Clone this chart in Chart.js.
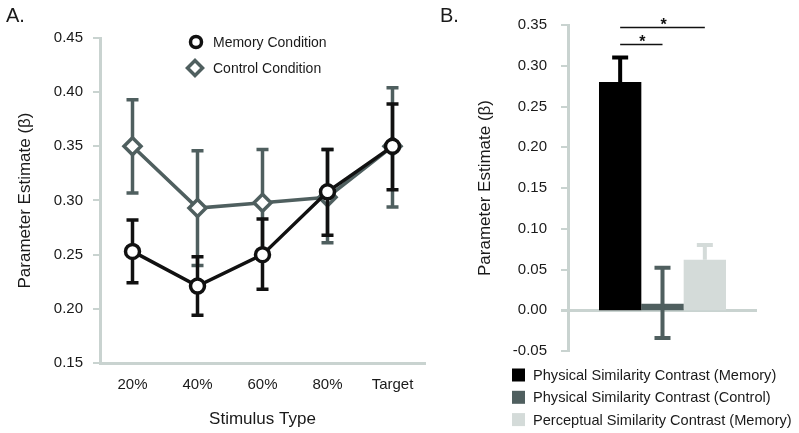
<!DOCTYPE html>
<html><head><meta charset="utf-8">
<script src="https://cdn.jsdelivr.net/npm/chart.js@4"></script>
<style>
html,body{margin:0;padding:0;background:#fff;}
#wrap{position:relative;width:799px;height:433px;overflow:hidden;}
canvas{position:absolute;left:0;top:0;}
</style></head><body>
<div id="wrap">
<canvas id="a" width="799" height="433"></canvas>
<canvas id="b" width="799" height="433"></canvas>
</div>
<script>
// ---- data ----
const stimulusTypes = ['20%', '40%', '60%', '80%', 'Target'];
const memoryValues  = [0.253, 0.221, 0.250, 0.308, 0.350];
const memoryUpper   = [0.282, 0.248, 0.283, 0.347, 0.389];
const memoryLower   = [0.224, 0.194, 0.218, 0.268, 0.310];
const controlValues = [0.350, 0.293, 0.298, 0.303, 0.350];
const controlUpper  = [0.393, 0.346, 0.347, 0.347, 0.404];
const controlLower  = [0.307, 0.240, 0.249, 0.261, 0.294];
const seriesNames   = ['Memory Condition', 'Control Condition'];

const contrastNames  = ['Physical Similarity Contrast (Memory)', 'Physical Similarity Contrast (Control)', 'Perceptual Similarity Contrast (Memory)'];
const contrastValues = [0.280, 0.008, 0.062];
const contrastUpper  = [0.310, 0.052, 0.080];
const contrastLower  = [null, -0.034, null];
const sigPairs  = [[0, 1], [0, 2]];
const sigLevels = [0.327, 0.348];
const sigLabels = ['*', '*'];

const panelLabels = ['A.', 'B.'];
const yTitle = 'Parameter Estimate (\u03b2)';
const xTitle = 'Stimulus Type';

// ---- styles ----
const FONT = '"Liberation Sans", Arial, Helvetica, sans-serif';
const TXT = '#1a1a1a';
const AXIS = '#c9d3d0';
const BLACK = '#111111';
const GRAY = '#4f5f5f';
const LIGHT = '#d4dbd9';

Chart.defaults.font.family = FONT;
Chart.defaults.color = TXT;
Chart.defaults.animation = false;

const errorBarPlugin = {
  id: 'errbars',
  beforeDatasetDraw(chart, args, opts) { if (opts.when === 'before') draw(chart, args, opts); },
  afterDatasetDraw(chart, args, opts) { if (opts.when === 'after') draw(chart, args, opts); }
};
function draw(chart, args, opts) {
  const spec = opts.sets && opts.sets[args.index];
  if (!spec) return;
  const ctx = chart.ctx, ys = chart.scales.y;
  ctx.save();
  ctx.strokeStyle = spec.color;
  ctx.lineWidth = spec.width;
  ctx.lineCap = 'butt';
  args.meta.data.forEach((el, i) => {
    const x = el.x;
    const yTop = ys.getPixelForValue(spec.upper[i]);
    const lo = spec.lower[i];
    const yBot = ys.getPixelForValue(lo == null ? spec.values[i] : lo);
    ctx.beginPath();
    ctx.moveTo(x, yTop); ctx.lineTo(x, yBot);
    ctx.moveTo(x - spec.cap, yTop); ctx.lineTo(x + spec.cap, yTop);
    if (lo != null) { ctx.moveTo(x - spec.cap, yBot); ctx.lineTo(x + spec.cap, yBot); }
    ctx.stroke();
  });
  ctx.restore();
}

const panelLabelPlugin = {
  id: 'panelLabel',
  afterDraw(chart, args, opts) {
    const ctx = chart.ctx;
    ctx.save();
    ctx.fillStyle = TXT;
    ctx.font = '20px ' + FONT;
    ctx.textAlign = 'left';
    ctx.textBaseline = 'alphabetic';
    ctx.fillText(opts.text, opts.x, opts.y);
    ctx.restore();
  }
};

// legend for panel A
const legendA = {
  id: 'legendA',
  afterDraw(chart) {
    const ctx = chart.ctx, ca = chart.chartArea;
    const sx = ca.left + 96, tx = ca.left + 113;
    const rows = [ca.top + 4, ca.top + 30];
    ctx.save();
    ctx.font = '14px ' + FONT;
    ctx.textBaseline = 'middle';
    ctx.textAlign = 'left';
    ctx.lineWidth = 3.5;
    ctx.strokeStyle = BLACK;
    ctx.fillStyle = '#fff';
    ctx.beginPath(); ctx.arc(sx, rows[0], 5.5, 0, Math.PI * 2); ctx.fill(); ctx.stroke();
    ctx.strokeStyle = GRAY;
    const r = 7.5, dx = sx - 1;
    ctx.beginPath();
    ctx.moveTo(dx, rows[1] - r); ctx.lineTo(dx + r, rows[1]); ctx.lineTo(dx, rows[1] + r); ctx.lineTo(dx - r, rows[1]); ctx.closePath();
    ctx.fill(); ctx.stroke();
    ctx.fillStyle = TXT;
    ctx.fillText(seriesNames[0], tx, rows[0] + 1);
    ctx.fillText(seriesNames[1], tx, rows[1] + 1);
    ctx.restore();
  }
};

// legend + significance for panel B
const barColors = ['#000000', GRAY, LIGHT];
const legendB = {
  id: 'legendB',
  afterDraw(chart) {
    const ctx = chart.ctx, ca = chart.chartArea, ys = chart.scales.y;
    ctx.save();
    ctx.strokeStyle = '#111';
    ctx.lineWidth = 1.5;
    ctx.fillStyle = '#111';
    ctx.font = 'bold 16px ' + FONT;
    ctx.textAlign = 'center';
    ctx.textBaseline = 'alphabetic';
    sigPairs.forEach((p, k) => {
      const x1 = chart.getDatasetMeta(p[0]).data[0].x;
      const x2 = chart.getDatasetMeta(p[1]).data[0].x;
      const y = Math.round(ys.getPixelForValue(sigLevels[k])) + 0.5;
      ctx.beginPath(); ctx.moveTo(x1, y); ctx.lineTo(x2, y); ctx.stroke();
      ctx.fillText(sigLabels[k], (x1 + x2) / 2 + 1, y + 2);
    });
    const sx = ca.left - 56, tx = ca.left - 35;
    ctx.font = '14.6px ' + FONT;
    ctx.textAlign = 'left';
    ctx.textBaseline = 'middle';
    contrastNames.forEach((n, i) => {
      const cy = ca.bottom + 24 + i * 22.3;
      ctx.fillStyle = barColors[i];
      ctx.fillRect(sx, cy - 6.5, 13, 13);
      ctx.fillStyle = TXT;
      ctx.fillText(n, tx, cy + 1);
    });
    ctx.restore();
  }
};

const fmt = v => (Math.abs(v) < 1e-9 ? 0 : Number(v)).toFixed(2);

// ---- Panel A ----
new Chart(document.getElementById('a'), {
  type: 'line',
  data: {
    labels: stimulusTypes,
    datasets: [
      { label: seriesNames[0], data: memoryValues, borderColor: BLACK, borderWidth: 3.5, tension: 0,
        pointStyle: 'circle', pointRadius: 7, pointBorderWidth: 3.5, pointBackgroundColor: '#fff', pointBorderColor: BLACK },
      { label: seriesNames[1], data: controlValues, borderColor: GRAY, borderWidth: 3.5, tension: 0,
        pointStyle: 'rectRot', pointRadius: 8.5, pointBorderWidth: 3.5, pointBackgroundColor: '#fff', pointBorderColor: GRAY }
    ]
  },
  options: {
    responsive: false, devicePixelRatio: 1,
    layout: { padding: { left: 0, top: 38, right: 374, bottom: 0 } },
    plugins: {
      legend: { display: false }, tooltip: { enabled: false },
      errbars: { when: 'before', sets: [
        { values: memoryValues, upper: memoryUpper, lower: memoryLower, color: BLACK, width: 3.5, cap: 6 },
        { values: controlValues, upper: controlUpper, lower: controlLower, color: GRAY, width: 3.5, cap: 6 }
      ] },
      panelLabel: { text: panelLabels[0], x: 6, y: 22 }
    },
    scales: {
      x: {
        offset: true,
        grid: { display: false },
        border: { display: true, color: AXIS, width: 3 },
        ticks: { font: { size: 15 }, color: TXT, padding: 5 },
        title: { display: true, text: xTitle, font: { size: 17 }, color: TXT, padding: { top: 0, bottom: 3 } },
        afterFit: s => { s.height = 70; }
      },
      y: {
        min: 0.15, max: 0.45,
        ticks: { stepSize: 0.05, callback: fmt, font: { size: 15 }, color: TXT, padding: 10 },
        grid: { drawOnChartArea: false, drawTicks: true, tickLength: 7, color: AXIS, lineWidth: 2 },
        border: { display: true, color: AXIS, width: 3 },
        title: { display: true, text: yTitle, font: { size: 17 }, color: TXT, padding: { top: 15, bottom: 0 } },
        afterFit: s => { s.width = 100; }
      }
    }
  },
  plugins: [errorBarPlugin, panelLabelPlugin, legendA]
});

// ---- Panel B ----
new Chart(document.getElementById('b'), {
  type: 'bar',
  data: {
    labels: [''],
    datasets: contrastNames.map((n, i) => ({
      label: n, data: [contrastValues[i]], backgroundColor: barColors[i], borderWidth: 0,
      barPercentage: 1, categoryPercentage: 0.672
    }))
  },
  options: {
    responsive: false, devicePixelRatio: 1,
    layout: { padding: { left: 440, top: 25, right: 42, bottom: 82 } },
    plugins: {
      legend: { display: false }, tooltip: { enabled: false },
      errbars: { when: 'after', sets: contrastNames.map((n, i) => ({
        values: [contrastValues[i]], upper: [contrastUpper[i]], lower: [contrastLower[i]],
        color: barColors[i], width: 4, cap: 8 })) },
      panelLabel: { text: panelLabels[1], x: 440, y: 22 }
    },
    scales: {
      x: { display: false },
      y: {
        min: -0.05, max: 0.35,
        ticks: { stepSize: 0.05, callback: fmt, font: { size: 15 }, color: TXT, padding: 14 },
        grid: { drawOnChartArea: true, drawTicks: true, tickLength: 7, tickColor: AXIS,
                color: c => (c.tick && Math.abs(c.tick.value) < 1e-9) ? AXIS : 'rgba(0,0,0,0)',
                lineWidth: c => (c.tick && Math.abs(c.tick.value) < 1e-9) ? 3 : 2 },
        border: { display: true, color: AXIS, width: 3 },
        title: { display: true, text: yTitle, font: { size: 17 }, color: TXT, padding: { top: 35, bottom: 0 } },
        afterFit: s => { s.width = 128; }
      }
    }
  },
  plugins: [errorBarPlugin, panelLabelPlugin, legendB]
});
</script>
</body></html>
